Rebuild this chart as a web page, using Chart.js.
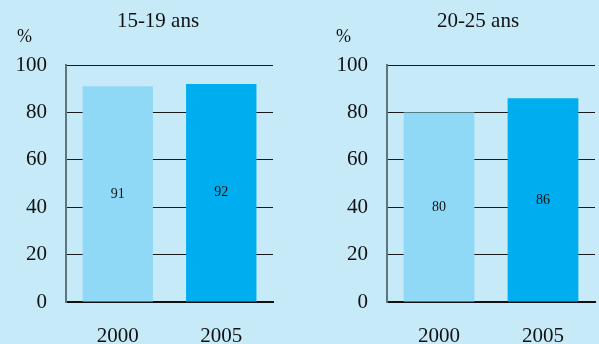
<!DOCTYPE html>
<html>
<head>
<meta charset="utf-8">
<script src="https://cdn.jsdelivr.net/npm/chart.js@4.4.0/dist/chart.umd.min.js"></script>
<style>
  body { margin: 0; background: #c7eaf9; width: 599px; height: 344px; overflow: hidden; position: relative; }
  .panel { position: absolute; top: 0; height: 344px; }
  .txt { position: absolute; font-family: "Liberation Serif", "Times New Roman", serif; color: #111; line-height: 1; white-space: nowrap; }
  .title { font-size: 21px; top: 10px; transform: translateX(-50%); }
  .pct { font-size: 18px; top: 27px; }
</style>
</head>
<body>
<div class="panel" style="left:0;width:300px"><canvas id="left" width="300" height="344"></canvas></div>
<div class="panel" style="left:300px;width:299px"><canvas id="right" width="299" height="344"></canvas></div>
<div class="txt title" style="left:158px">15-19 ans</div>
<div class="txt title" style="left:478px">20-25 ans</div>
<div class="txt pct" style="left:17px">%</div>
<div class="txt pct" style="left:336px">%</div>
<script>
// Data
const years = ['2000', '2005'];
const teens = [91, 92];      // 15-19 ans
const youngAdults = [80, 86]; // 20-25 ans
const yMin = 0, yMax = 100, yStep = 20;
const barColors = ['#8fd9f6', '#00aeef'];

const serif = "'Liberation Serif', 'Times New Roman', serif";

// Value labels in the middle of each bar
const midLabels = {
    id: 'midLabels',
    afterDatasetsDraw(chart) {
        const ctx = chart.ctx;
        ctx.save();
        ctx.font = '14px ' + serif;
        ctx.fillStyle = '#111';
        ctx.textAlign = 'center';
        ctx.textBaseline = 'middle';
        chart.getDatasetMeta(0).data.forEach((bar, i) => {
            const v = chart.data.datasets[0].data[i];
            ctx.fillText(String(v), bar.x, (bar.y + bar.base) / 2);
        });
        ctx.restore();
    }
};

function makeChart(id, values, yWidth, padRight) {
    const ctx = document.getElementById(id).getContext('2d');
    return new Chart(ctx, {
        type: 'bar',
        data: {
            labels: years,
            datasets: [{
                data: values,
                backgroundColor: barColors,
                borderWidth: 0,
                barPercentage: 0.68,
                categoryPercentage: 1
            }]
        },
        options: {
            responsive: false,
            animation: false,
            layout: { padding: { top: 65, right: padRight, bottom: 0, left: 0 } },
            plugins: { legend: { display: false }, tooltip: { enabled: false } },
            scales: {
                x: {
                    grid: { display: false },
                    border: { display: true, color: '#111', width: 2 },
                    ticks: { color: '#111', font: { family: serif, size: 21 }, padding: 14 },
                    afterFit: (s) => { s.height = 42; }
                },
                y: {
                    min: yMin, max: yMax,
                    grid: { color: '#1a1a1a', lineWidth: 1, drawTicks: false },
                    border: { display: true, color: '#5f7580', width: 2 },
                    ticks: { stepSize: yStep, color: '#111', font: { family: serif, size: 21 }, padding: 19 },
                    afterFit: (s) => { s.width = yWidth; }
                }
            }
        },
        plugins: [midLabels]
    });
}

makeChart('left', teens, 66, 27);
makeChart('right', youngAdults, 87, 4);
</script>
</body>
</html>
